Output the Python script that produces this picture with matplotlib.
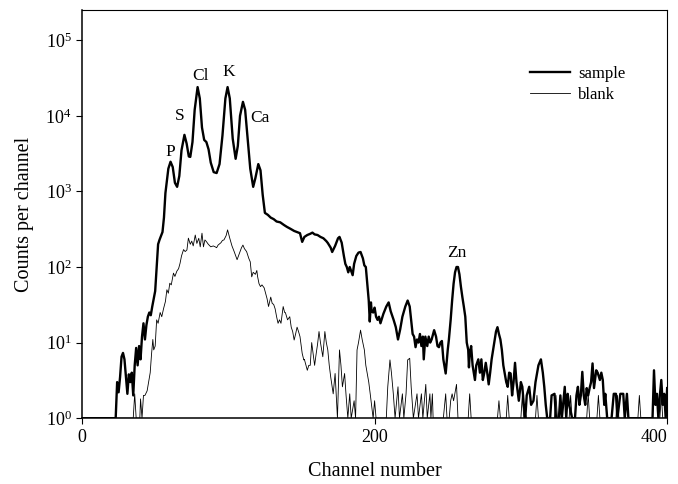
import matplotlib.pyplot as plt
from matplotlib.ticker import NullLocator

plt.rcParams['font.family'] = ['Liberation Serif', 'DejaVu Serif']
plt.rcParams['mathtext.fontset'] = 'stix'

# sample spectrum (channel, counts), 10 per row
sample_ch = [0, 23, 24, 25, 26, 27, 28, 29, 30, 31,
             32, 33, 34, 35, 36, 37, 38, 39, 40, 41,
             42, 43, 44, 45, 46, 47, 48, 49, 50, 51,
             52, 53, 55, 56, 57, 59, 60.5, 62, 63.5, 65,
             66.5, 68, 70, 71.5, 73, 74, 75.5, 77, 79, 80.5,
             82, 83.5, 85, 86.5, 88, 90, 92, 94, 96, 98,
             99.5, 101, 103, 105, 106.5, 108, 110, 111.5, 113, 115,
             117, 118.5, 120.5, 122, 123.5, 125, 127, 129, 131, 133,
             135.5, 138, 140, 142.5, 145, 147, 149, 150.5, 152, 154,
             156, 157.5, 159, 161, 163, 165, 167, 168, 170, 171,
             173, 175, 176, 177.5, 179, 180, 181, 182, 183, 185,
             186, 187.5, 189, 190.4, 192, 193, 194, 195, 196, 196.7,
             197.5, 198, 199, 200, 201, 202, 203, 204, 206, 208,
             209.6, 211, 213, 214.5, 216, 217.5, 219, 221, 222.6, 224,
             225, 226, 227, 228, 229, 230, 231, 232, 233, 233.6,
             234.7, 236, 237, 238, 239, 240.7, 242, 243, 244, 245,
             246, 247, 248.6, 250, 250.8, 252, 253, 254, 255, 256,
             257, 258, 259, 260, 261, 262, 263, 264, 264.5, 265,
             266, 267, 268.6, 269.5, 270.9, 272, 273, 274, 275, 276,
             277, 278, 279, 280, 281.7, 283, 284, 285, 286, 287,
             288, 289, 290, 291, 292, 293, 294, 295, 296, 297,
             298.6, 300, 301, 302, 303, 304, 305.7, 307, 308.6, 310,
             311, 312, 313.7, 315, 316, 317, 318, 320, 321, 323,
             324, 326, 327, 328, 330, 331, 332, 333, 335, 337,
             338, 339, 340, 341, 342, 343, 344, 345, 346, 347,
             348, 349, 350, 351.5, 352.5, 354, 355, 356, 357, 357.7,
             359, 362, 363.5, 365, 366, 368, 370, 371, 372.5, 373.5,
             390, 391, 392, 393, 394, 395, 396, 397, 398, 399,
             400]
sample_counts = [1, 1, 3, 2.2, 3.5, 6.5, 7.3, 6, 3.5, 2.1,
                 3.8, 3, 4, 2, 5, 8.5, 5, 9, 6, 12,
                 18, 11, 17, 22, 25, 23, 30, 38, 48, 100,
                 200, 230, 290, 450, 950, 2000, 2470, 2100, 1300, 1150,
                 1600, 3500, 5600, 4300, 2900, 2860, 4500, 12000, 24000, 17000,
                 7000, 4800, 4500, 3600, 2400, 1800, 1750, 2300, 5500, 17000,
                 24000, 17000, 5000, 2700, 4000, 10000, 15300, 12000, 5500, 2000,
                 1150, 1500, 2300, 1900, 900, 520, 490, 450, 430, 400,
                 390, 360, 340, 320, 300, 290, 280, 215, 250, 265,
                 275, 285, 270, 265, 250, 240, 220, 208, 180, 158,
                 190, 240, 250, 210, 140, 110, 100, 85, 100, 78,
                 110, 140, 155, 158, 130, 105, 100, 60, 36, 19,
                 34, 26, 25, 29, 22, 20, 22, 18, 24, 30,
                 34, 26, 20, 16, 11, 15, 22, 30, 36, 30,
                 20, 13, 12, 8.7, 11, 10, 13, 9, 12, 6,
                 12, 9, 12, 10, 11, 14.6, 12, 9, 8.7, 10,
                 10.5, 6, 3.9, 8, 11, 20, 36, 60, 85, 100,
                 100, 80, 55, 40, 30, 22, 10, 8, 4.7, 7,
                 9, 5, 3.2, 5, 6, 4, 6, 3.2, 4, 5.4,
                 4, 2.8, 4, 6, 9.8, 14, 16, 13, 11, 8,
                 5, 3.9, 3, 2.6, 4, 3.9, 2, 3, 5.4, 3,
                 1.7, 3, 2.6, 1.5, 1, 2, 2.6, 1.5, 1.7, 3,
                 3.9, 5, 6, 4, 2.6, 1.5, 1, 1, 2, 2.1,
                 1, 1, 2, 1, 2.6, 1, 2.1, 1.5, 1, 1,
                 2, 2.6, 1.5, 2, 4.1, 2, 1.5, 2.5, 2, 2.5,
                 3, 5.3, 2.5, 4.3, 4, 3.2, 4, 3.2, 1.5, 2.1,
                 1, 1, 2.1, 2.1, 1, 2.1, 2.1, 1, 2.1, 1,
                 1, 4.3, 1.5, 2.1, 1, 2, 3.2, 1.5, 2.1, 1,
                 2.5]

# blank spectrum, 10 per row
blank_ch = [0, 35, 36, 37, 39.5, 40, 41, 42, 43, 44.5,
            45.5, 46.6, 47.5, 48.4, 49, 50, 51, 52, 53.4, 54.5,
            55.7, 57, 58, 59, 60, 61, 62.5, 63.5, 64.8, 66,
            67, 68, 69.4, 70.5, 71.7, 72.7, 74, 75, 76, 77.4,
            78.5, 79.8, 80.8, 82, 83, 84, 85, 86.3, 88, 89.7,
            91, 92, 93, 95, 96, 97, 98.5, 99.5, 101, 102.5,
            104, 106, 107.5, 109, 110, 111, 112.5, 114, 115, 116,
            117, 118.5, 119.5, 120, 121, 122, 123, 124.5, 125.5, 126.5,
            127.5, 129, 130, 131, 132, 133, 134, 135, 136, 137.5,
            138.5, 139, 140.5, 142, 143, 144, 145, 146, 147, 148,
            149, 150.5, 151.6, 152, 154, 155, 156, 157, 158, 159,
            160, 161, 162, 163, 164.6, 166, 167, 168, 169, 170,
            171.7, 173, 174.6, 176, 177, 178, 179.5, 180.5, 181.7, 183,
            184, 186, 187, 188, 189, 190.4, 191.5, 193, 194, 195,
            196, 197, 199, 200, 201, 208, 209, 210.5, 211.5, 212.8,
            214, 216, 217, 219, 220, 221.5, 222.6, 224, 225, 226.5,
            229, 230, 232, 233, 235, 236, 237.8, 238.5, 239.5, 240,
            247, 248.6, 249.5, 251, 252, 253, 254, 256, 257, 264,
            265, 266, 284, 285, 286, 290, 291, 292, 300, 301,
            302, 310, 311, 312, 323, 324, 325, 333, 334, 335,
            345, 346, 347, 352, 353, 354, 365, 366, 367, 380,
            381, 382, 395, 396, 397, 400]
blank_counts = [1, 1, 2.1, 1, 1, 1.8, 1, 2, 2, 2.3,
                3, 4, 7, 11, 8, 9, 20, 18, 25, 22,
                28, 35, 50, 45, 61, 58, 83, 75, 88, 95,
                112, 140, 170, 160, 168, 241, 200, 220, 190, 265,
                205, 240, 185, 280, 185, 228, 217, 200, 185, 190,
                185, 180, 195, 210, 225, 228, 260, 310, 240, 190,
                160, 125, 150, 180, 195, 175, 160, 130, 117, 74,
                85, 80, 90, 75, 60, 55, 58, 53, 45, 38,
                30, 40, 33, 32, 28, 22, 18, 20, 18, 30,
                25, 25, 20, 22, 16, 14, 10.8, 13, 16, 14,
                12, 7.2, 5.9, 6, 4.3, 5, 5, 10, 7, 5,
                7, 9.5, 14, 10, 6.5, 14, 10, 8, 5, 3.5,
                2.1, 3.9, 1, 8, 5, 2.6, 3.9, 2, 1, 2.1,
                1, 1.7, 1, 8, 10, 14.6, 11, 8, 5, 3.9,
                3, 2.1, 1, 1.7, 1, 1, 2.6, 5.9, 4, 2.1,
                1, 2.6, 1, 2.1, 1, 2.1, 5.9, 6.2, 2.6, 1,
                2.1, 1, 2.1, 1, 2.8, 1, 2.1, 1, 2.1, 1,
                1, 2.1, 1, 1, 1.7, 2.1, 1.7, 2.8, 1, 1,
                2.1, 1, 1, 1.7, 1, 1, 2, 1, 1, 2,
                1, 1, 2, 1, 1, 2, 1, 1, 2, 1,
                1, 2.1, 1, 1, 2, 1, 1, 2, 1, 1,
                2, 1, 1, 2, 1, 1]

# peak labels: element, channel, counts
peak_names = ['P', 'S', 'Cl', 'K', 'Ca', 'Zn']
peak_ch = [60.3, 67.1, 80.8, 100, 121.5, 256]
peak_counts = [3330, 9950, 33900, 38300, 9300, 153]


fig = plt.figure(figsize=(6.78, 4.84), dpi=100)
ax = fig.add_axes([0.121, 0.136, 0.863, 0.843])

ax.plot(blank_ch, blank_counts, color='black', linewidth=0.6, label='blank')
ax.plot(sample_ch, sample_counts, color='black', linewidth=1.7, label='sample')

for name, c, n in zip(peak_names, peak_ch, peak_counts):
    ax.text(c, n, name, ha='center', va='center', fontsize=12.5)

ax.set_yscale('log')
ax.set_xlim(0, 400)
ax.set_ylim(1, 2.5e5)
ax.set_xticks([0, 200, 400])
ax.set_yticks([1, 10, 100, 1e3, 1e4, 1e5])
ax.yaxis.set_minor_locator(NullLocator())
ax.tick_params(direction='out', length=4, labelsize=13)

# last x label sits inside the figure edge
ax.get_xticklabels()[-1].set_horizontalalignment('right')

ax.set_xlabel('Channel number', fontsize=14.5, labelpad=12)
ax.set_ylabel('Counts per channel', fontsize=14.5, labelpad=8)

for side in ['left', 'bottom']:
    ax.spines[side].set_linewidth(1.1)
for side in ['top', 'right']:
    ax.spines[side].set_linewidth(0.8)

# legend with sample on top
handles, labels = ax.get_legend_handles_labels()
ax.legend(handles[::-1], labels[::-1], frameon=False, loc='upper left',
          bbox_to_anchor=(0.74, 0.9), fontsize=12, handlelength=2.4,
          labelspacing=0.3, handletextpad=0.5)

fig.savefig('out.png', dpi=100)
